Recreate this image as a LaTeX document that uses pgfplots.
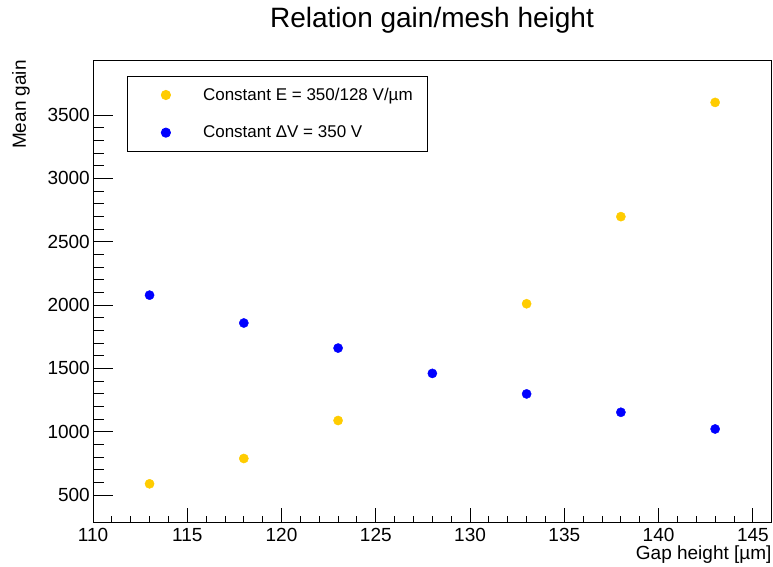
\documentclass[border=0pt]{standalone}
\usepackage{pgfplots}
\pgfplotsset{compat=1.18}
\usepackage{fontspec}
\setmainfont{Liberation Sans}
\definecolor{rootyellow}{RGB}{255,204,0}
\definecolor{rootblue}{RGB}{0,0,255}

\pgfplotstableread{
x y
113 588
118 788
123 1088
133 2010
138 2698
143 3600
}\constE
\pgfplotstableread{
x y
113 2078
118 1858
123 1660
128 1460
133 1298
138 1153
143 1021
}\constV

\pgfplotsset{
  rootaxis/.style={
    at={(93pt,44.3pt)}, anchor=south west,
    scale only axis, width=678.7pt, height=462.7pt,
    xmin=110, xmax=146, ymin=281, ymax=3935,
    axis line style={black, line width=0.9pt},
    tick style={black, line width=0.9pt},
    tick align=inside,
    ticklabel style={font=\fontsize{19}{22}\selectfont},
    /pgf/number format/assume math mode=true,
    /pgf/number format/1000 sep={},
  }
}

\begin{document}
\begin{tikzpicture}[x=1pt,y=1pt]
\useasboundingbox (0,0) rectangle (773,567);
% x ticks
\begin{axis}[rootaxis,
  xtick={110,115,...,145}, minor x tick num=4,
  major tick length=14.5pt, minor tick length=7pt,
  ytick=\empty, xtick pos=bottom,
  xticklabel style={inner sep=0pt, anchor=north, yshift=-5.3pt},
]
\end{axis}
% y ticks and data
\begin{axis}[rootaxis,
  ytick={500,1000,...,3500}, minor y tick num=4,
  major tick length=20pt, minor tick length=11pt,
  xtick=\empty, ytick pos=left,
  yticklabel style={inner sep=0pt, anchor=east, xshift=-3pt},
  legend style={at={(0.0501,0.966)}, anchor=north west, draw=black, line width=0.9pt,
    inner sep=0pt, row sep=0pt,
    font=\fontsize{17}{20}\selectfont,
    nodes={inner sep=0pt, minimum height=37.65pt}},
  legend cell align=left,
  legend image code/.code={\path (-38pt,0pt) (36.7pt,0pt);
    \draw[mark repeat=2,mark phase=2,#1] plot coordinates {(-5pt,0pt) (0pt,0pt) (5pt,0pt)};},
]
\addplot[only marks, mark=*, mark size=4.6pt, color=rootyellow, fill=rootyellow] table[x=x,y=y] {\constE};
\addlegendentry{\makebox[224pt][l]{Constant E = 350/128 V/µm}}
\addplot[only marks, mark=*, mark size=4.6pt, color=rootblue, fill=rootblue] table[x=x,y=y] {\constV};
\addlegendentry{\makebox[224pt][l]{Constant ΔV = 350 V}}
\end{axis}
\node[font=\fontsize{28}{32}\selectfont] at (432,547) {Relation gain/mesh height};
\node[rotate=90, anchor=east, font=\fontsize{19}{22}\selectfont, inner sep=0pt] at (21,507) {Mean gain};
\node[anchor=north east, font=\fontsize{19}{22}\selectfont, inner sep=0pt] at (771.7,21.5) {Gap height [µm]};
\end{tikzpicture}
\end{document}
